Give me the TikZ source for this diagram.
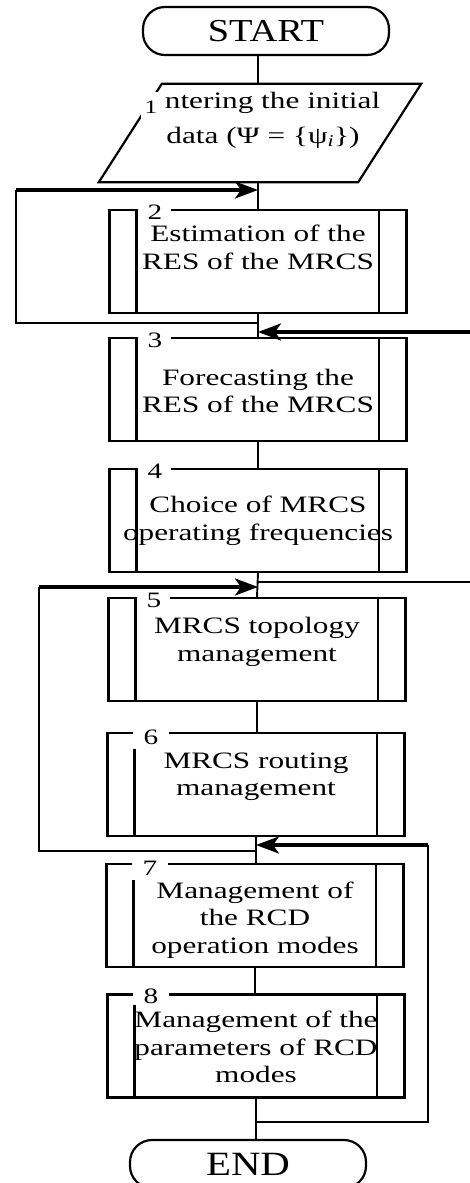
\documentclass[tikz,border=0pt]{standalone}
\usepackage{fontspec}
\setmainfont{Liberation Serif}[FakeStretch=1.33]
\newfontfamily\termfont{Liberation Serif}[FakeStretch=1.2]
\usetikzlibrary{calc,arrows.meta}
\begin{document}
\begin{tikzpicture}[x=1pt,y=-1pt,
  box/.style={draw,line width=2.2pt,minimum width=297pt,minimum height=103pt,inner sep=0pt},
  txt/.style={align=center,font=\fontsize{23.5}{27.5}\selectfont,inner sep=0pt},
  num/.style={fill=white,inner sep=0pt,font=\fontsize{22}{22}\selectfont},
  term/.style={draw,line width=2.2pt,rounded corners=22pt,minimum height=48pt,inner sep=0pt},
  conn/.style={line width=1.9pt},
  thickarr/.style={line width=3.2pt,-{Stealth[length=23pt,width=17pt,inset=6pt]}}]
\fill[white] (0,0) rectangle (470,1183);
\useasboundingbox (0,0) rectangle (470,1183);

% terminators
\node[term,minimum width=246pt,font=\termfont\fontsize{32}{32}\selectfont] (start) at (266,31) {START};
\node[term,minimum width=236pt,font=\termfont\fontsize{34}{34}\selectfont] (end) at (248,1164) {END};

% input parallelogram
\node[minimum width=322pt,minimum height=98pt,inner sep=0pt] (in) at (260,133) {};
\draw[line width=2.2pt] ($(in.north west)+(63,0)$) -- (in.north east) -- ($(in.south east)+(-63,0)$) -- (in.south west) -- cycle;
\node[num,minimum width=20pt,minimum height=30pt,font=\fontsize{19}{19}\selectfont] (n1) at (151,107) {1};
\node[txt,font=\fontsize{23.5}{35}\selectfont] (intext) at (263,120) {\hphantom{E}ntering the initial\\data (Ψ = \{ψ\textsubscript{\textit{i}}\})};

% process boxes
\node[box] (b2) at (258,261.5) {};
\node[box] (b3) at (258,389.5) {};
\node[box] (b4) at (258,520.5) {};
\node[box] (b5) at (257,649.5) {};
\node[box] (b6) at (256,784.5) {};
\node[box] (b7) at (255,915.5) {};
\node[box] (b8) at (256,1046) {};
\foreach \b in {b2,b3,b4,b5,b6,b7,b8}{
  \draw[line width=2.2pt] ($(\b.north west)+(28,0)$) -- ($(\b.south west)+(28,0)$);
  \draw[line width=2.2pt] ($(\b.north east)+(-29,0)$) -- ($(\b.south east)+(-29,0)$);
}
\node[num,minimum width=33pt,minimum height=14pt] (n2) at ($(b2.north west)+(46.5,3)$) {2};
\node[num,minimum width=33pt,minimum height=14pt] (n3) at ($(b3.north west)+(46.5,3)$) {3};
\node[num,minimum width=33pt,minimum height=14pt] (n4) at ($(b4.north west)+(46.5,3)$) {4};
\node[num,minimum width=33pt,minimum height=14pt] (n5) at ($(b5.north west)+(46.5,3)$) {5};
\node[num,minimum width=36pt,minimum height=24pt] (n6) at ($(b6.north west)+(44.5,5)$) {6};
\node[num,minimum width=36pt,minimum height=24pt] (n7) at ($(b7.north west)+(44.5,5)$) {7};
\node[num,minimum width=36pt,minimum height=17pt] (n8) at ($(b8.north west)+(44.5,3)$) {8};

\node[txt] (t2) at (258,247.5) {Estimation of the\\RES of the MRCS};
\node[txt] (t3) at (258,391) {Forecasting the\\RES of the MRCS};
\node[txt] (t4) at (258,521) {Choice of MRCS\\operating frequencies};
\node[txt] (t5) at (257,642) {MRCS topology\\management};
\node[txt] (t6) at (256,776.5) {MRCS routing\\management};
\node[txt] (t7) at (255,920) {Management of\\the RCD\\operation modes};
\node[txt] (t8) at (256,1047) {Management of the\\parameters of RCD\\modes};

% junction coordinates
\coordinate (j1) at (258,190);
\coordinate (j2) at (258,323);
\coordinate (j3) at (258,332);
\coordinate (j4) at (258,587);
\coordinate (j5) at (258,582);
\coordinate (j6) at (256,845);
\coordinate (j7) at (256,851);
\coordinate (j8) at (256,1122);
\coordinate (aL) at (16,190);
\coordinate (aLb) at (16,323);
\coordinate (bL) at (39,587);
\coordinate (bLb) at (39,851);
\coordinate (cR) at (428,845);
\coordinate (cRb) at (428,1122);
\coordinate (rA) at (470,332);
\coordinate (rB) at (470,582);

% main line
\draw[conn] (start.south -| j1) -- (in.north -| j1);
\draw[conn] (in.south -| j1) -- (b2.north);
\draw[conn] (b2.south) -- (b3.north);
\draw[conn] (b3.south) -- (b4.north);
\draw[conn] (b4.south) -- (b5.north);
\draw[conn] (b5.south) -- (b5.south |- b6.north);
\draw[conn] (b6.south) -- (b6.south |- b7.north);
\draw[conn] (b7.south) -- (b7.south |- b8.north);
\draw[conn] (b8.south) -- (b8.south |- end.north);

% loops
\draw[conn] (j2) -- (aLb) -- (aL);
\draw[thickarr] (aL) -- (j1);
\draw[thickarr] (rA) -- (j3);
\draw[conn] (j7) -- (bLb) -- (bL);
\draw[thickarr] (bL) -- (j4);
\draw[conn] (j5) -- (rB);
\draw[conn] (j8) -- (cRb) -- (cR);
\draw[thickarr] (cR) -- (j6);
\end{tikzpicture}
\end{document}
